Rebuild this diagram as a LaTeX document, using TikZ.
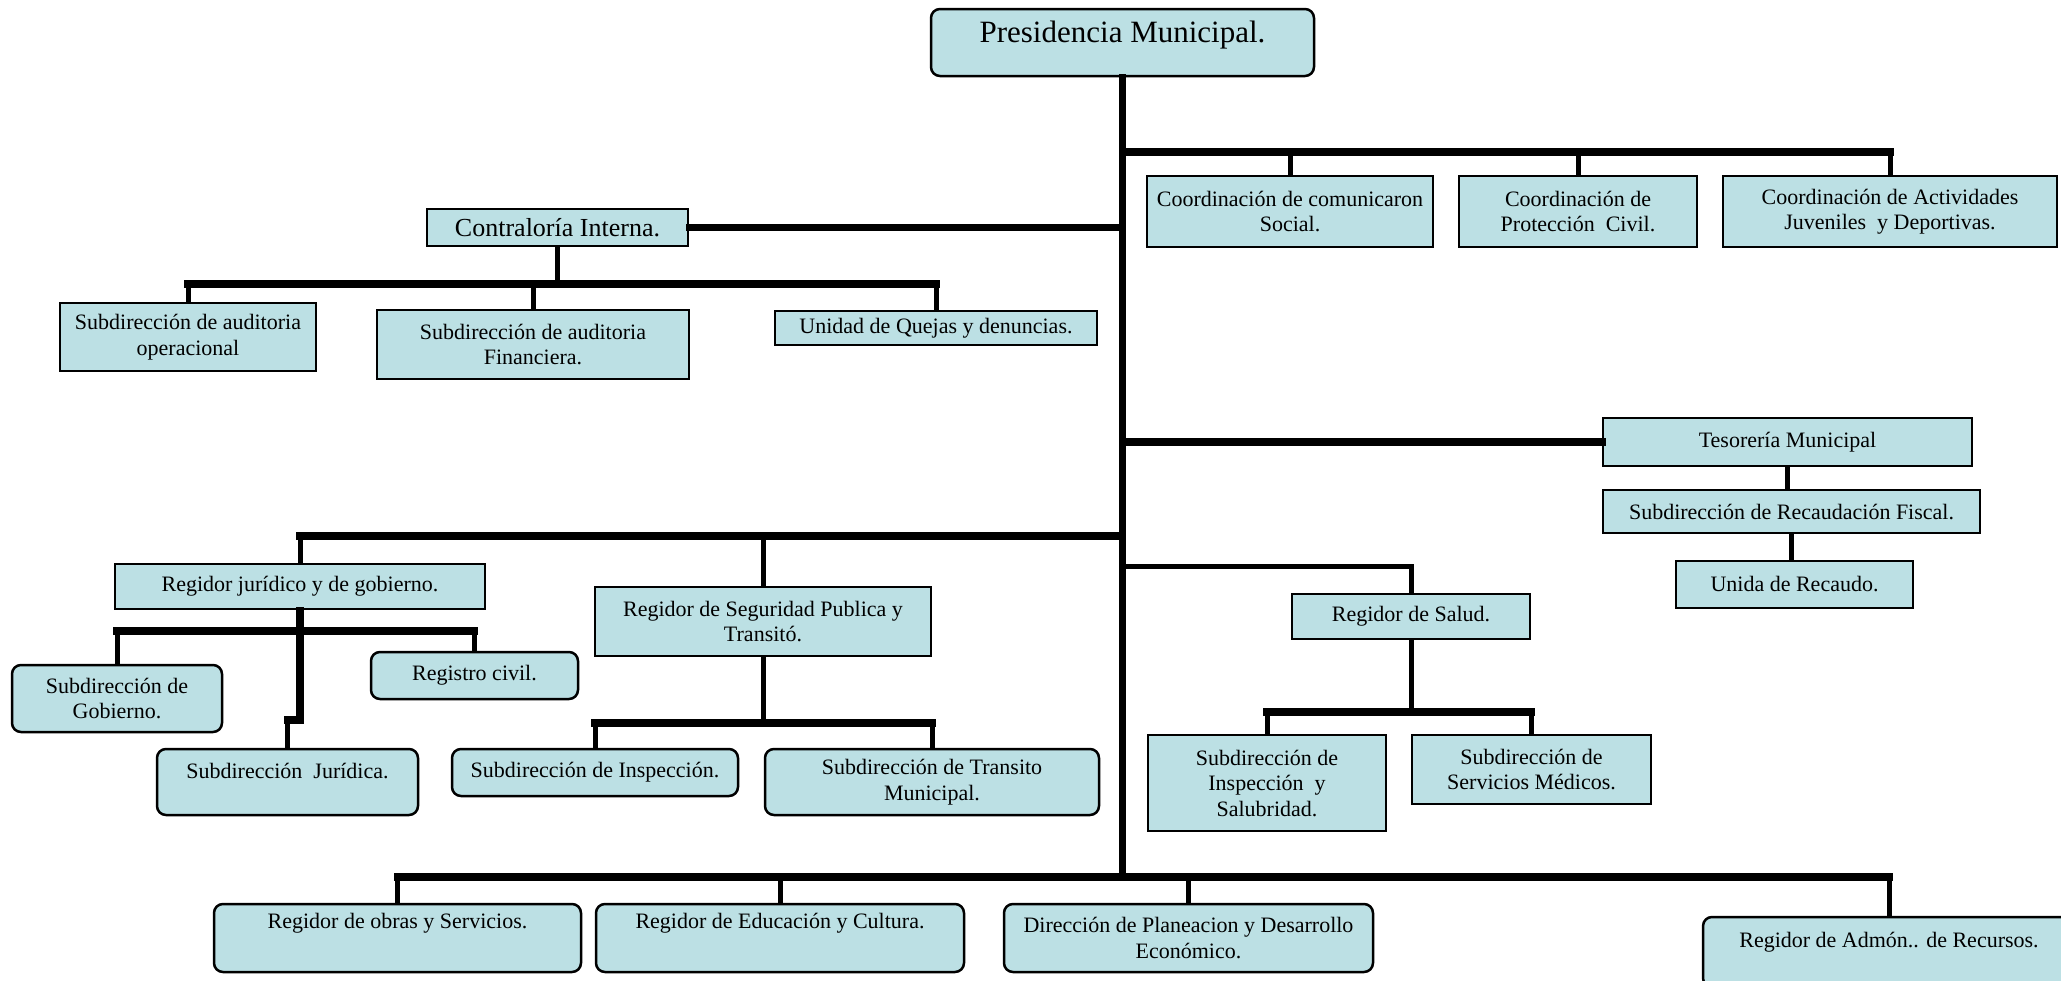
\documentclass[tikz,border=0pt]{standalone}
\usepackage{fontspec}
\setmainfont{Liberation Serif}
\usetikzlibrary{calc}
\definecolor{boxcol}{RGB}{188,224,228}
\begin{document}
\begin{tikzpicture}[x=1pt,y=-1pt,
  bx/.style={draw=black, line width=2.5pt, fill=boxcol, align=center, inner sep=2pt, font=\fontsize{22}{25.5}\selectfont},
  rbx/.style={bx, rounded corners=9pt},
  txtup/.style={text height=15pt, text depth=#1},
  main/.style={line width=7.5pt, line cap=rect},
  sub/.style={line width=5pt},
]
\useasboundingbox (0,0) rectangle (2061,980);
\clip (0,0) rectangle (2061,980);
\fill[white] (0,0) rectangle (2061,980);

% coordinates of junctions
\coordinate (jt) at (1122.5,152);
\coordinate (jbot) at (1122.5,877);
\coordinate (cb) at (557.5,284);
\coordinate (jm) at (1122.5,536);
\coordinate (jb) at (300,631);
\coordinate (jk) at (300,720);
\coordinate (sb) at (763,723);
\coordinate (js) at (1122.5,566);
\coordinate (hb) at (1411,712);

% boxes
\node[rbx, minimum width=383pt, minimum height=67pt, font=\fontsize{31}{36}\selectfont, text height=21pt, text depth=21pt] (pres) at (1122.5,42.5) {Presidencia Municipal.};

\node[bx, minimum width=286pt, minimum height=71pt] (c1) at (1290,211.5) {Coordinación de comunicaron\\Social.};
\node[bx, minimum width=238pt, minimum height=71pt] (c2) at (1578,211.5) {Coordinación de\\Protección\ \ Civil.};
\node[bx, minimum width=334pt, minimum height=71pt] (c3) at (1890,211.5) {Coordinación de Actividades\\Juveniles\ \ y Deportivas.};

\node[bx, minimum width=261pt, minimum height=37pt, font=\fontsize{26}{30}\selectfont] (contra) at (557.5,227.5) {Contraloría Interna.};
\node[bx, minimum width=256pt, minimum height=68pt] (s1) at (188,337) {Subdirección de auditoria\\operacional};
\node[bx, minimum width=312pt, minimum height=69pt] (s2) at (533,344.5) {Subdirección de auditoria\\Financiera.};
\node[bx, minimum width=322pt, minimum height=34pt] (s3) at (936,328) {Unidad de Quejas y denuncias.};

\node[bx, minimum width=369pt, minimum height=48pt] (teso) at (1787.5,442) {Tesorería Municipal};
\node[bx, minimum width=377pt, minimum height=43pt] (recau) at (1791.5,511.5) {Subdirección de Recaudación Fiscal.};
\node[bx, minimum width=237pt, minimum height=47pt] (unida) at (1794.5,584.5) {Unida de Recaudo.};

\node[bx, minimum width=370pt, minimum height=45pt] (jur) at (300,586.5) {Regidor jurídico y de gobierno.};
\node[bx, minimum width=336pt, minimum height=69pt] (seg) at (763,621.5) {Regidor de Seguridad Publica y\\Transitó.};
\node[rbx, minimum width=210pt, minimum height=67pt] (gob) at (117,698.5) {Subdirección de\\Gobierno.};
\node[rbx, minimum width=207pt, minimum height=47pt] (reg) at (474.5,675.5) {Registro civil.};
\node[rbx, minimum width=261pt, minimum height=66pt, txtup=23pt] (sjur) at (287.5,782) {Subdirección\ \ Jurídica.};
\node[rbx, minimum width=286pt, minimum height=47pt] (insp) at (595,772.5) {Subdirección de Inspección.};
\node[rbx, minimum width=334pt, minimum height=66pt] (trans) at (932,782) {Subdirección de Transito\\Municipal.};

\node[bx, minimum width=238pt, minimum height=45pt] (salud) at (1411,616.5) {Regidor de Salud.};
\node[bx, minimum width=238pt, minimum height=96pt] (sal) at (1267,783) {Subdirección de\\Inspección\ \ y\\Salubridad.};
\node[bx, minimum width=239pt, minimum height=69pt] (med) at (1531.5,769.5) {Subdirección de\\Servicios Médicos.};

\node[rbx, minimum width=367pt, minimum height=68pt, txtup=35pt] (obras) at (397.5,938) {Regidor de obras y Servicios.};
\node[rbx, minimum width=368pt, minimum height=68pt, txtup=35pt] (edu) at (780,938) {Regidor de Educación y Cultura.};
\node[rbx, minimum width=369pt, minimum height=68pt] (dir) at (1188.5,938) {Dirección de Planeacion y Desarrollo\\Económico.};
\node[rbx, minimum width=372pt, minimum height=70pt, txtup=25pt] (adm) at (1889,952) {Regidor de Admón.. de Recursos.};

% connectors
\draw[main] (pres.south) -- (jbot);
\draw[main] (jt) -- (jt -| c3.north);
\foreach \n in {c1,c2,c3} \draw[sub] (jt -| \n.north) -- (\n.north);

\draw[main] (contra.east) -- (contra.east -| jt);
\draw[sub] (contra.south) -- (cb);
\draw[main] (cb -| s1.north) -- (cb -| s3.north);
\foreach \n in {s1,s2,s3} \draw[sub] (cb -| \n.north) -- (\n.north);

\draw[main] (jt |- teso.west) -- (teso.west);
\draw[sub] (teso.south) -- (teso.south |- recau.north);
\draw[sub] (recau.south) -- (recau.south |- unida.north);

\draw[main] (jm) -- (jm -| jur.north);
\draw[sub] (jm -| jur.north) -- (jur.north);
\draw[sub] (jm -| seg.north) -- (seg.north);

\draw[main] (jur.south) -- (jk) -- (jk -| sjur.north);
\draw[sub] (jk -| sjur.north) -- (sjur.north);
\draw[main] (jb -| gob.north) -- (jb -| reg.north);
\draw[sub] (jb -| gob.north) -- (gob.north);
\draw[sub] (jb -| reg.north) -- (reg.north);

\draw[sub] (seg.south) -- (sb);
\draw[main] (sb -| insp.north) -- (sb -| trans.north);
\draw[sub] (sb -| insp.north) -- (insp.north);
\draw[sub] (sb -| trans.north) -- (trans.north);

\draw[sub] (js) -- (js -| salud.north) -- (salud.north);
\draw[sub] (salud.south) -- (hb);
\draw[main] (hb -| sal.north) -- (hb -| med.north);
\draw[sub] (hb -| sal.north) -- (sal.north);
\draw[sub] (hb -| med.north) -- (med.north);

\draw[main] (jbot -| obras.north) -- (jbot -| adm.north);
\foreach \n in {obras,edu,dir,adm} \draw[sub] (jbot -| \n.north) -- (\n.north);
\end{tikzpicture}
\end{document}
